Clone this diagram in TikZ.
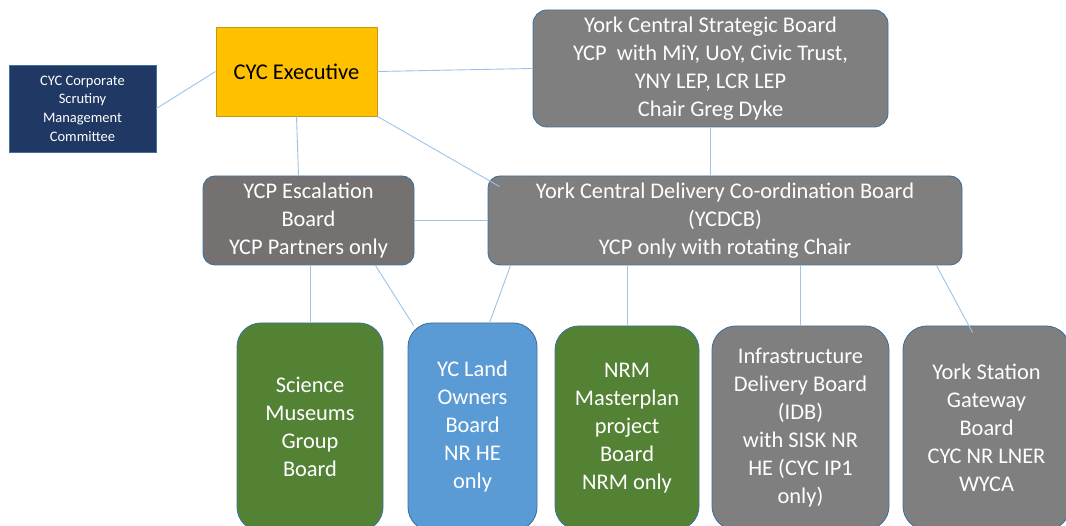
\documentclass[tikz,border=0pt]{standalone}
\usepackage{fontspec}
\setmainfont{Carlito}
\definecolor{navyfill}{HTML}{203864}
\definecolor{execfill}{HTML}{FFC000}
\definecolor{execline}{HTML}{C9970A}
\definecolor{boardgray}{HTML}{7F7F7F}
\definecolor{escalgray}{HTML}{767171}
\definecolor{projgreen}{HTML}{548235}
\definecolor{landblue}{HTML}{5B9BD5}
\definecolor{edgeblue}{HTML}{41719C}
\definecolor{linkblue}{HTML}{9DC3E6}

\begin{document}
\begin{tikzpicture}[x=1pt, y=-1pt,
    board/.style={draw=edgeblue, line width=0.9pt, rounded corners=14pt, fill=boardgray,
      text=white, align=center, inner sep=0pt,
      font=\fontsize{22.4}{28}\selectfont},
    tallboard/.style={board, rounded corners=24pt},
    link/.style={draw=linkblue, line width=0.9pt}]
        \useasboundingbox (0,0) rectangle (1066,526);
        \clip (0,0) rectangle (1066,526);

        % Council side
        \node[draw=edgeblue, line width=0.8pt, fill=navyfill, text=white, align=center,
          minimum width=147, minimum height=87, inner sep=0pt,
          font=\fontsize{14.5}{18.7}\selectfont] (corp) at (82.5,108.5)
          {CYC Corporate\\Scrutiny\\Management\\Committee};
        \node[draw=execline, line width=0.9pt, fill=execfill, text=black,
          minimum width=161, minimum height=89, inner sep=0pt,
          font=\fontsize{22.5}{26}\selectfont] (exec) at (296.5,71.5) {CYC Executive};

        % Strategic board
        \node[board, minimum width=355, minimum height=117] (strat) at (710.5,68.5)
          {York Central Strategic Board\\YCP\ \ with MiY, UoY, Civic Trust,\\YNY LEP, LCR LEP\\Chair Greg Dyke};

        % Second row
        \node[board, fill=escalgray, rounded corners=12pt, minimum width=211, minimum height=89] (escal) at (308.5,220.5)
          {YCP Escalation\\Board\\YCP Partners only};
        \node[board, rounded corners=12pt, minimum width=474, minimum height=89] (ycdcb) at (725,220.5)
          {York Central Delivery Co-ordination Board\\(YCDCB)\\YCP only with rotating Chair};

        % Project boards
        \node[tallboard, fill=projgreen, minimum width=146, minimum height=208] (smg) at (310,427)
          {Science\\Museums\\Group\\Board};
        \node[tallboard, fill=landblue, minimum width=129, minimum height=208] (land) at (472.5,427)
          {YC Land\\Owners\\Board\\NR HE\\only};
        \node[tallboard, fill=projgreen, minimum width=144, minimum height=204] (nrm) at (627,428)
          {NRM\\Masterplan\\project\\Board\\NRM only};
        \node[tallboard, minimum width=177, minimum height=204] (idb) at (800.5,428)
          {Infrastructure\\Delivery Board\\(IDB)\\with SISK NR\\HE (CYC IP1\\only)};
        \node[tallboard, minimum width=167, minimum height=204] (ysg) at (986.5,428)
          {York Station\\Gateway\\Board\\CYC NR LNER\\WYCA};

        % Links
        \draw[link] (corp.east) -- (exec.west);
        \draw[link] (exec.east) -- (strat.west);
        \draw[link] (exec.south) -- ([xshift=2]exec.south |- escal.north);
        \draw[link] (exec.south east) -- ([xshift=12,yshift=-11]ycdcb.north west);
        \draw[link] (strat.south) -- (strat.south |- ycdcb.north);
        \draw[link] (escal.east) -- (ycdcb.west);
        \draw[link] (smg.north |- escal.south) -- (smg.north);
        \draw[link] ([xshift=-39]escal.south east) -- ([xshift=6,yshift=-3]land.north west);
        \draw[link] ([xshift=23]ycdcb.south west) -- ([xshift=82]land.north west);
        \draw[link] (nrm.north |- ycdcb.south) -- (nrm.north);
        \draw[link] (idb.north |- ycdcb.south) -- (idb.north);
        \draw[link] ([xshift=-26]ycdcb.south east) -- ([xshift=70,yshift=-7]ysg.north west);
      \end{tikzpicture}
\end{document}
